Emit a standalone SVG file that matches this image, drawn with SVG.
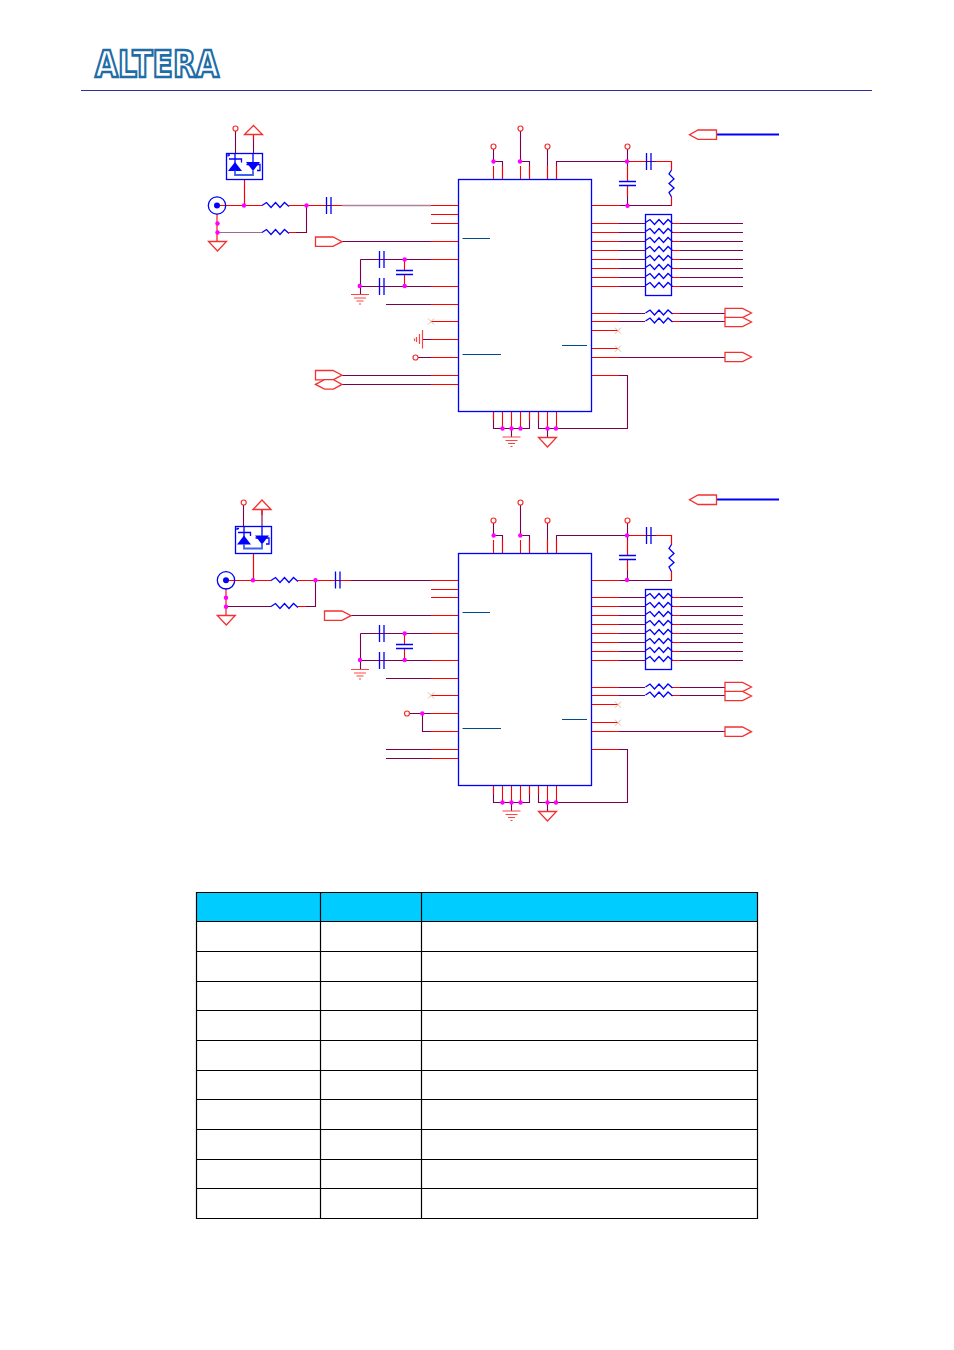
<svg xmlns="http://www.w3.org/2000/svg" width="954" height="1350" viewBox="0 0 954 1350">
<style>
.r{fill:none;stroke:#f00;stroke-width:1.100}
.m{fill:none;stroke:#7a0050;stroke-width:1.100}
.b{fill:none;stroke:#00f;stroke-width:1.300}
.fl{fill:#fff;stroke:#f43030;stroke-width:1.300}
.g{fill:none;stroke:#f44;stroke-width:1.200}
.o{fill:#fff;stroke:#f43030;stroke-width:1.200}
.j{fill:#f0f}
.x{fill:none;stroke:#d8b090;stroke-width:.9}
.bar{fill:none;stroke:#004a90;stroke-width:1.100}
.t{fill:none;stroke:#000;stroke-width:1.200}
</style>
<defs>
<polyline id="rh" class="b" points="0,0 4.500,-3 9,2 13.500,-3 18,2 22.500,-3 27,1"/>
<polyline id="rv" class="b" points="0,0 -2.500,4 2.500,9 -2.500,13.500 2.500,18 -2.500,22.500 0,27"/>
<path id="ch" class="b" d="M0 -8.500V8.500M4.500 -8.500V8.500"/>
<path id="cv" class="b" d="M-8.500 0H8.500M-8.500 4H8.500"/>
<path id="gnd" class="g" d="M-9 0H9M-6 3.500H6M-3.500 6.500H3.500M-1 9.500H1"/>
<path id="tri" class="fl" d="M-9 0H9L0 9.500Z"/>
<path id="flagR" class="fl" d="M0 -4.700H17.500L26.500 0L17.500 4.700H0Z"/>
<path id="hex" class="fl" d="M0 0L9 -4.700H18L26.500 0L18 4.700H9Z"/>
<path id="xm" class="x" d="M-3 -3L3 3M-3 3L3 -3"/>
<g id="dio">
<path d="M0 8.500L-7 17.500H7Z" fill="#00f"/>
<path d="M18 17.500L11 8.500H25Z" fill="#00f"/>
<path class="b" d="M-7 3V1.500H-5M-6 5.500H6.500V9M11.500 11H25V17H22"/>
<path d="M0 17V21.500H18V17" fill="none" stroke="#4060f0" stroke-width="1.800"/>
<path class="b" d="M0 0V10M18 0V10"/>
</g>
</defs>
<rect width="954" height="1350" fill="#fff"/>
<g id="header">
<text x="95" y="76.500" font-family="DejaVu Sans, Liberation Sans, sans-serif" font-weight="700" font-size="37" textLength="124" lengthAdjust="spacingAndGlyphs" fill="#fff" stroke="#1f6da6" stroke-width="2.600">ALTERA</text>
<path d="M81 90.500H872" fill="none" stroke="#2f2fa0" stroke-width="1"/>
</g>
<g id="connectors">
<path class="m" d="M244.500 205.500V180M431 205.500H306.500V232.500H289M342 241.500H431M360.500 259.500H431M360.500 259.500V294M360.500 286.500H431M386 304.500H431M422.500 339.500H431M418 357.500H431M342 375.500H431M342 384.500H431M235.500 131V153M253.500 134V153"/>
<path d="M217 232.500H262" fill="none" stroke="#a06a90" stroke-width="1.200"/>
<path d="M342 205.500H431" fill="none" stroke="#b0809c" stroke-width="1.400"/>
<path class="m" d="M493.500 149V161.500H502.500V179M520.500 131V161.500H529.500V179M547.500 149V179M556.500 179V161.500H671.500V170M627.500 149V181M627.500 186V205.500M671.500 197V205.500H620"/>
<path class="m" d="M619 223.500H645M619 232.500H645M619 241.500H645M619 250.500H645M619 259.500H645M619 268.500H645M619 277.500H645M619 286.500H645M680 223.500H743M680 232.500H743M680 241.500H743M680 250.500H743M680 259.500H743M680 268.500H743M680 277.500H743M680 286.500H743"/>
<path class="m" d="M619 313.500H645M619 321.500H645M680 313.500H725M680 321.500H725M619 357.500H725M619 375.500H627.500V428.500H538.500V411.500M493.500 411.500V428.500H529.500V411.500M511.500 428.500V437M547.500 428.500V437"/>
<path class="r" d="M217 205.500H262M289 205.500H326M331 205.500H342M217 214V241M244.500 180V205M253.500 134V140M289 232.500H296"/>
<path class="r" d="M431 205.500H458M431 214.500H458M431 223.500H458M431 241.500H458M431 259.500H458M431 286.500H458M431 304.500H458M431 321.500H458M431 339.500H458M431 357.500H458M431 375.500H458M431 384.500H458M404.500 259.500V270M404.500 275V286.500"/>
<path class="r" d="M591.500 205.500H620M591.500 223.500H619M591.500 232.500H619M591.500 241.500H619M591.500 250.500H619M591.500 259.500H619M591.500 268.500H619M591.500 277.500H619M591.500 286.500H619M671 223.500H680M671 232.500H680M671 241.500H680M671 250.500H680M671 259.500H680M671 268.500H680M671 277.500H680M671 286.500H680M591.500 313.500H619M591.500 321.500H619M591.500 330.500H618M591.500 348.500H618M591.500 357.500H619M591.500 375.500H619M671 313.500H680M671 321.500H680"/>
<path class="r" d="M493.500 166V179M502.500 166V179M520.500 166V179M529.500 166V179M547.500 166V179M556.500 166V179M493.500 411.500V420M502.500 411.500V428M511.500 411.500V428M520.500 411.500V428M529.500 411.500V420M538.500 411.500V420M547.500 411.500V428M556.500 411.500V428M627.500 166V181M627.500 186V196M656 161.500H671.500V170M630 161.500H646M671.500 197V205.500"/>
<path class="b" d="M716.500 134.500H779" style="stroke-width:2"/>
<path class="m" d="M253.500 553V580M431 580.500H315.500V606.500H298M226 606.500H271M351 615.500H431M360.500 633.500H431M360.500 633.500V669M360.500 660.500H431M386 678.500H431M409 713.500H431M422.500 713.500V731.500H431M386 749.500H431M386 758.500H431M243.500 505V526M262 509V526"/>
<path class="m" d="M493.500 523V535.500H502.500V553M520.500 505V535.500H529.500V553M547.500 523V553M556.500 553V535.500H671.500V545M627.500 523V555M627.500 560V580.500M671.500 571V580.500H620"/>
<path class="m" d="M619 597.500H645M619 606.500H645M619 615.500H645M619 624.500H645M619 633.500H645M619 642.500H645M619 651.500H645M619 660.500H645M680 597.500H743M680 606.500H743M680 615.500H743M680 624.500H743M680 633.500H743M680 642.500H743M680 651.500H743M680 660.500H743"/>
<path class="m" d="M619 687.500H645M619 695.500H645M680 687.500H725M680 695.500H725M619 731.500H725M619 749.500H627.500V802.500H538.500V785.500M493.500 785.500V802.500H529.500V785.500M511.500 802.500V811M547.500 802.500V811"/>
<path class="r" d="M226 580.500H271M298 580.500H335M340 580.500H351M226 588V615M253.500 553V580M262 509V515M298 606.500H306"/>
<path class="r" d="M431 580.500H458M431 589.500H458M431 597.500H458M431 615.500H458M431 633.500H458M431 660.500H458M431 678.500H458M431 695.500H458M431 713.500H458M431 731.500H458M431 749.500H458M431 758.500H458M404.500 633.500V644M404.500 649V660.500"/>
<path class="r" d="M591.500 580.500H620M591.500 597.500H619M591.500 606.500H619M591.500 615.500H619M591.500 624.500H619M591.500 633.500H619M591.500 642.500H619M591.500 651.500H619M591.500 660.500H619M671 597.500H680M671 606.500H680M671 615.500H680M671 624.500H680M671 633.500H680M671 642.500H680M671 651.500H680M671 660.500H680M591.500 687.500H619M591.500 695.500H619M591.500 704.500H618M591.500 722.500H618M591.500 731.500H619M591.500 749.500H619M671 687.500H680M671 695.500H680"/>
<path class="r" d="M493.500 540V553M502.500 540V553M520.500 540V553M529.500 540V553M547.500 540V553M556.500 540V553M493.500 785.500V794M502.500 785.500V802M511.500 785.500V802M520.500 785.500V802M529.500 785.500V794M538.500 785.500V794M547.500 785.500V802M556.500 785.500V802M627.500 540V555M627.500 560V570M656 535.500H671.500V545M630 535.500H646M671.500 571V580.500"/>
<path class="b" d="M716.500 499.500H779" style="stroke-width:2"/>
</g>
<g id="circuit1">
<g id="u1"><rect class="b" x="458.500" y="179.500" width="133" height="232"/><path class="bar" d="M462.500 238.500H490M462.500 354.500H501M562 345.500H587"/></g>
<g id="j1"><circle class="b" cx="217" cy="205.500" r="8.700"/><circle cx="217" cy="205.500" r="3" fill="#00f"/></g>
<g id="d1"><rect class="b" x="226.500" y="153.500" width="36" height="26"/><use href="#dio" x="235" y="153.500"/></g>
<g id="r1"><use href="#rh" x="262" y="205.500"/><use href="#rh" x="262" y="232.500"/></g>
<g id="c1"><use href="#ch" x="326.500" y="205.500"/><use href="#ch" x="379.500" y="259.500"/><use href="#ch" x="379.500" y="286.500"/><use href="#cv" x="404.500" y="270.500"/><use href="#ch" x="646.500" y="161.500"/><use href="#cv" x="627.500" y="181.500"/></g>
<g id="rn1"><rect class="b" x="645.500" y="214.500" width="26" height="81"/>
<use href="#rh" x="645.500" y="222.500"/><use href="#rh" x="645.500" y="231.500"/><use href="#rh" x="645.500" y="240.500"/><use href="#rh" x="645.500" y="249.500"/><use href="#rh" x="645.500" y="258.500"/><use href="#rh" x="645.500" y="267.500"/><use href="#rh" x="645.500" y="276.500"/><use href="#rh" x="645.500" y="285.500"/>
<use href="#rh" x="645.500" y="313"/><use href="#rh" x="645.500" y="321"/><use href="#rv" x="671.500" y="170"/></g>
<g id="pwr1">
<circle class="o" cx="235.500" cy="128.500" r="2.500"/><path class="fl" d="M244.500 134.500L253.500 125.500L262.500 134.500Z"/>
<circle class="o" cx="493.500" cy="146.500" r="2.500"/><circle class="o" cx="520.500" cy="128.500" r="2.500"/><circle class="o" cx="547.500" cy="146.500" r="2.500"/><circle class="o" cx="627.500" cy="146.500" r="2.500"/><circle class="o" cx="415.500" cy="357.500" r="2.500"/>
<use href="#tri" x="217.500" y="241.500"/><use href="#tri" x="547.500" y="437.500"/>
<use href="#gnd" x="360" y="294.500"/><use href="#gnd" x="511.500" y="437"/>
<path class="g" d="M422.500 330V348.500M419.500 334V344M416.500 337V342M414.500 338.500V341"/>
</g>
<g id="flags1">
<use href="#flagR" x="315.500" y="241.700"/><use href="#flagR" x="315.500" y="375.200"/><use href="#hex" x="315.500" y="384.400"/>
<use href="#flagR" x="725" y="313"/><use href="#flagR" x="725" y="322"/><use href="#flagR" x="725" y="357"/>
<path class="fl" d="M716.500 130H698L689.500 134.700L698 139.300H716.500Z"/>
</g>
<g id="nc1"><use href="#xm" x="431" y="321.500"/><use href="#xm" x="618" y="330.700"/><use href="#xm" x="618" y="348.700"/></g>
<g id="dots1" class="j">
<circle cx="244" cy="205.500" r="2.200"/><circle cx="306.500" cy="205.500" r="2.200"/><circle cx="217.500" cy="223.500" r="2.200"/><circle cx="217.500" cy="232.500" r="2.200"/><circle cx="404.700" cy="259.500" r="2.200"/><circle cx="404.700" cy="286" r="2.200"/><circle cx="359.700" cy="286" r="2.200"/><circle cx="493.500" cy="161.500" r="2.200"/><circle cx="520" cy="161.500" r="2.200"/><circle cx="627" cy="161.500" r="2.200"/><circle cx="627.500" cy="205.800" r="2.200"/><circle cx="502.500" cy="428.500" r="2.200"/><circle cx="511.500" cy="428.500" r="2.200"/><circle cx="520.500" cy="428.500" r="2.200"/><circle cx="547.500" cy="428.500" r="2.200"/><circle cx="556" cy="428.500" r="2.200"/>
</g>
</g>
<g id="circuit2">
<g id="u2"><rect class="b" x="458.500" y="553.500" width="133" height="232"/><path class="bar" d="M462.500 612.500H490M462.500 728.500H501M562 719.500H587"/></g>
<g id="j2"><circle class="b" cx="226" cy="580.300" r="8.700"/><circle cx="226" cy="580.300" r="3" fill="#00f"/></g>
<g id="d2"><rect class="b" x="235.500" y="526.500" width="36" height="27"/><use href="#dio" x="244" y="527"/></g>
<g id="r2"><use href="#rh" x="271" y="580.500"/><use href="#rh" x="271" y="606.500"/></g>
<g id="c2"><use href="#ch" x="335.500" y="580"/><use href="#ch" x="379.500" y="633.500"/><use href="#ch" x="379.500" y="660.500"/><use href="#cv" x="404.500" y="644.500"/><use href="#ch" x="646.500" y="535.500"/><use href="#cv" x="627.500" y="555.500"/></g>
<g id="rn2"><rect class="b" x="645.500" y="589.500" width="26" height="80"/>
<use href="#rh" x="645.500" y="596.500"/><use href="#rh" x="645.500" y="605.500"/><use href="#rh" x="645.500" y="614.500"/><use href="#rh" x="645.500" y="623.500"/><use href="#rh" x="645.500" y="632.500"/><use href="#rh" x="645.500" y="641.500"/><use href="#rh" x="645.500" y="650.500"/><use href="#rh" x="645.500" y="659.500"/>
<use href="#rh" x="645.500" y="687"/><use href="#rh" x="645.500" y="695"/><use href="#rv" x="671.500" y="544.500"/></g>
<g id="pwr2">
<circle class="o" cx="243.700" cy="502.500" r="2.500"/><path class="fl" d="M253 509.500L262 500L271 509.500Z"/>
<circle class="o" cx="493.500" cy="520.500" r="2.500"/><circle class="o" cx="520.500" cy="502.500" r="2.500"/><circle class="o" cx="547.500" cy="520.500" r="2.500"/><circle class="o" cx="627.500" cy="520.500" r="2.500"/><circle class="o" cx="407" cy="713.500" r="2.500"/>
<use href="#tri" x="226.300" y="615.500"/><use href="#tri" x="547.500" y="811.500"/>
<use href="#gnd" x="360" y="669.500"/><use href="#gnd" x="511.500" y="811"/>
</g>
<g id="flags2">
<use href="#flagR" x="324.500" y="615.700"/>
<use href="#flagR" x="725" y="687"/><use href="#flagR" x="725" y="696"/><use href="#flagR" x="725" y="731.700"/>
<path class="fl" d="M716.500 495H698L689.500 499.700L698 504.500H716.500Z"/>
</g>
<g id="nc2"><use href="#xm" x="431" y="695.500"/><use href="#xm" x="618" y="704.700"/><use href="#xm" x="618" y="722.700"/></g>
<g id="dots2" class="j">
<circle cx="253" cy="580.300" r="2.200"/><circle cx="315.500" cy="580.300" r="2.200"/><circle cx="226" cy="597.700" r="2.200"/><circle cx="226" cy="606.700" r="2.200"/><circle cx="404.700" cy="633.500" r="2.200"/><circle cx="404.700" cy="660" r="2.200"/><circle cx="360" cy="660" r="2.200"/><circle cx="422.300" cy="713.500" r="2.200"/><circle cx="493.700" cy="535.500" r="2.200"/><circle cx="520.300" cy="535.500" r="2.200"/><circle cx="627" cy="535.500" r="2.200"/><circle cx="627" cy="580" r="2.200"/><circle cx="502.500" cy="802.500" r="2.200"/><circle cx="511.500" cy="802.500" r="2.200"/><circle cx="520.500" cy="802.500" r="2.200"/><circle cx="547.500" cy="802.500" r="2.200"/><circle cx="556" cy="802.500" r="2.200"/>
</g>
</g>
<g id="table">
<rect x="196.500" y="892.500" width="561" height="29" fill="#00ccff"/>
<path class="t" d="M196.500 892.500H757.500V1218.500H196.500ZM320.500 892.500V1218.500M421.500 892.500V1218.500M196.500 921.500H757.500M196.500 951.500H757.500M196.500 981.500H757.500M196.500 1010.500H757.500M196.500 1040.500H757.500M196.500 1070.500H757.500M196.500 1099.500H757.500M196.500 1129.500H757.500M196.500 1159.500H757.500M196.500 1188.500H757.500"/>
</g>
</svg>
